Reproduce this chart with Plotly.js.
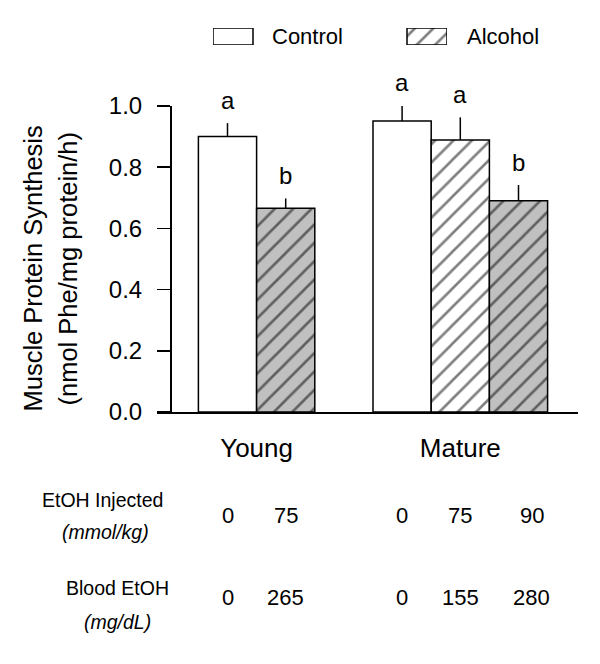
<!DOCTYPE html>
<html>
<head>
<meta charset="utf-8">
<script src="https://cdn.plot.ly/plotly-3.0.1.min.js"></script>
<style>html,body{margin:0;padding:0;background:#fff;}#chart{width:600px;height:664px;}</style>
</head>
<body>
<div id="chart"></div>
<script>
// ---- data ----
const barGroup = ['Young', 'Young', 'Mature', 'Mature', 'Mature'];
const barCondition = ['Control', 'Alcohol', 'Control', 'Alcohol', 'Alcohol'];
const barStyle = ['open', 'hatchGray', 'open', 'hatchWhite', 'hatchGray'];
const synthesis = [0.900, 0.666, 0.951, 0.889, 0.690];
const sem = [0.044, 0.032, 0.052, 0.074, 0.052];
const letters = ['a', 'b', 'a', 'a', 'b'];
const etohInjected = ['0', '75', '0', '75', '90'];
const bloodEtoh = ['0', '265', '0', '155', '280'];
const groupLabels = ['Young', 'Mature'];
const legendLabels = ['Control', 'Alcohol'];
const legendStyle = ['open', 'hatchWhite'];
const yTicks = [0, 0.2, 0.4, 0.6, 0.8, 1.0];
const yTitleLines = ['Muscle Protein Synthesis', '(nmol Phe/mg protein/h)'];
const rowLabels = ['EtOH Injected', 'Blood EtOH'];
const rowUnits = ['(mmol/kg)', '(mg/dL)'];

// ---- layout helpers (pixel geometry) ----
const W = 600, H = 664;
const fx = px => px / W;
const fy = py => 1 - py / H;
const FONT = 'Liberation Sans, Arial, Helvetica, sans-serif';

const styles = {
  open: {fill: 'white', pattern: null},
  hatchWhite: {fill: 'white', pattern: '/'},
  hatchGray: {fill: '#c0c0c0', pattern: '/'}
};

// slot positions: bars in a group are adjacent, groups separated by one empty slot
const pos = [];
let slot = 0;
barGroup.forEach((g, i) => {
  if (i > 0 && g !== barGroup[i - 1]) slot += 1;
  pos.push(slot);
  slot += 1;
});
const groupCenters = groupLabels.map(g => {
  const p = pos.filter((_, i) => barGroup[i] === g);
  return p.reduce((a, b) => a + b, 0) / p.length;
});

const unitPx = 58.2, slot0Px = 227.5, axLeft = 157, axRight = 578;
const xRange = [(axLeft - slot0Px) / unitPx, (axRight - slot0Px) / unitPx];
const yTopPx = 106, yBotPx = 412;
const yDom = [fy(yBotPx), fy(yTopPx)];
const yToPaper = v => yDom[0] + v * (yDom[1] - yDom[0]);

function markerFor(styleName) {
  const s = styles[styleName];
  const m = {color: s.fill, line: {color: 'black', width: 1.5}};
  if (s.pattern) m.pattern = {shape: s.pattern, bgcolor: s.fill, fgcolor: 'black', size: 13, solidity: 0.2, fillmode: 'overlay'};
  return m;
}

const traces = [];
Object.keys(styles).forEach(name => {
  const idx = barStyle.map((s, i) => s === name ? i : -1).filter(i => i >= 0);
  if (!idx.length) return;
  traces.push({
    type: 'bar',
    x: idx.map(i => pos[i]),
    y: idx.map(i => synthesis[i]),
    text: idx.map(i => barGroup[i] + ' ' + barCondition[i]),
    textposition: 'none',
    width: 1,
    marker: markerFor(name),
    error_y: {type: 'data', symmetric: false, array: idx.map(i => sem[i]), arrayminus: idx.map(() => 0), width: 0, thickness: 1.5, color: 'black'},
    cliponaxis: false,
    hoverinfo: 'skip',
    showlegend: false
  });
});

// legend boxes drawn on their own small axes
legendLabels.forEach((lab, i) => {
  traces.push({
    type: 'bar',
    x: [0.5 + i * 194 / 40],
    y: [1],
    base: 0,
    width: 1,
    name: lab,
    xaxis: 'x2', yaxis: 'y2',
    marker: markerFor(legendStyle[i]),
    hoverinfo: 'skip',
    showlegend: false
  });
});

const annotations = [];
letters.forEach((t, i) => annotations.push({
  x: pos[i], y: yToPaper(synthesis[i] + sem[i]), xref: 'x', yref: 'paper',
  text: t, showarrow: false, yanchor: 'bottom', yshift: 7,
  font: {size: 24, color: 'black', family: FONT}
}));
legendLabels.forEach((t, i) => annotations.push({
  x: fx(i === 0 ? 270 : 465), y: fy(36.5), xref: 'paper', yref: 'paper',
  text: t, showarrow: false, xanchor: 'left', yanchor: 'middle',
  font: {size: 22, color: 'black', family: FONT}
}));
// y-axis title (two lines)
const yTitleX = [32, 67];
yTitleLines.forEach((t, i) => annotations.push({
  x: fx(yTitleX[i]), y: fy(268.5), xref: 'paper', yref: 'paper', text: t,
  textangle: -90, showarrow: false, xanchor: 'center', yanchor: 'middle',
  font: {size: 25.5, color: 'black', family: FONT}
}));
// table rows
const rowY = [[500, 532, 515], [588, 622, 597]];
const rowX = [[102.5, 105], [117, 117]];
const rowValues = [etohInjected, bloodEtoh];
rowLabels.forEach((lab, r) => {
  annotations.push({x: fx(rowX[r][0]), y: fy(rowY[r][0]), xref: 'paper', yref: 'paper', text: lab,
    showarrow: false, xanchor: 'center', yanchor: 'middle', font: {size: 19.5, color: 'black', family: FONT}});
  annotations.push({x: fx(rowX[r][1]), y: fy(rowY[r][1]), xref: 'paper', yref: 'paper', text: '<i>' + rowUnits[r] + '</i>',
    showarrow: false, xanchor: 'center', yanchor: 'middle', font: {size: 19.5, color: 'black', family: FONT}});
  rowValues[r].forEach((v, i) => annotations.push({
    x: pos[i], y: fy(rowY[r][2]), xref: 'x', yref: 'paper', text: v,
    xshift: i === rowValues[r].length - 1 ? 13 : 0,
    showarrow: false, xanchor: 'center', yanchor: 'middle', font: {size: 22, color: 'black', family: FONT}
  }));
});

const layout = {
  width: W, height: H,
  margin: {l: 0, r: 0, t: 0, b: 0, autoexpand: false},
  paper_bgcolor: 'white', plot_bgcolor: 'white',
  font: {family: FONT, color: 'black'},
  showlegend: false,
  barmode: 'overlay',
  bargap: 0,
  xaxis: {
    domain: [fx(axLeft), fx(axRight)], range: xRange,
    showline: true, linecolor: 'black', linewidth: 1.5,
    showgrid: false, zeroline: false, ticks: '',
    tickmode: 'array', tickvals: groupCenters, ticktext: groupLabels,
    tickfont: {size: 26, family: FONT, color: 'black'},
    ticklabelstandoff: 12,
    fixedrange: true
  },
  yaxis: {
    domain: yDom, range: [0, 1],
    anchor: 'free', position: fx(170),
    showline: true, linecolor: 'black', linewidth: 1.5,
    showgrid: false, zeroline: false,
    ticks: 'outside', ticklen: 13, tickwidth: 1.5, tickcolor: 'black',
    tickmode: 'array', tickvals: yTicks, tickformat: '.1f',
    tickfont: {size: 24, family: FONT, color: 'black'},
    ticklabelstandoff: 10,
    fixedrange: true
  },
  xaxis2: {domain: [fx(213), fx(447)], range: [0, 234 / 40], anchor: 'y2', visible: false, fixedrange: true},
  yaxis2: {domain: [fy(45), fy(28)], range: [0, 1], anchor: 'x2', visible: false, fixedrange: true},
  annotations: annotations
};

Plotly.newPlot('chart', traces, layout, {displayModeBar: false, staticPlot: true});
</script>
</body>
</html>
